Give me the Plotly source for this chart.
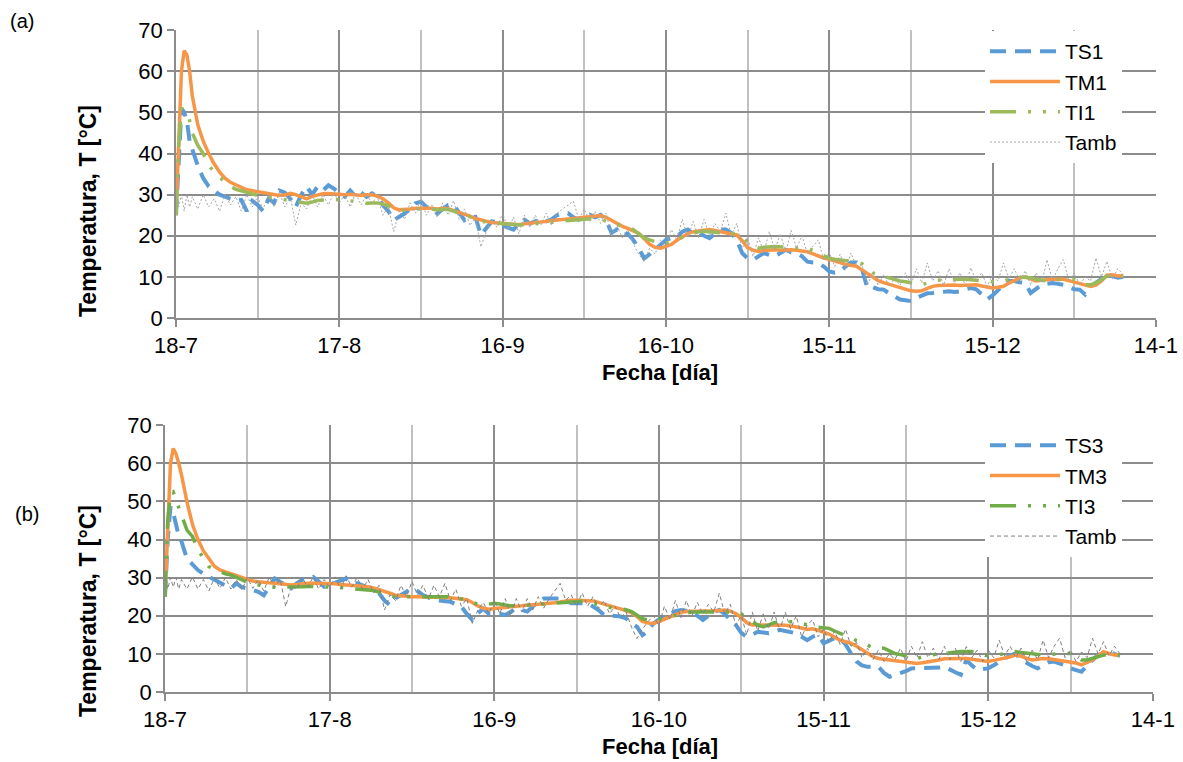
import pandas as pd
import plotly.graph_objects as go

# ---------------- data ----------------
# time axis: days after 18-7 (half-day steps during the first 3 days)
days = [0, 0.5, 1, 1.5, 2, 2.5, 3] + list(range(4, 175))
start_date = "2016-07-18"

tick_dates = ["2016-07-18", "2016-08-17", "2016-09-16", "2016-10-16",
              "2016-11-15", "2016-12-15", "2017-01-14"]
tick_labels = ["18-7", "17-8", "16-9", "16-10", "15-11", "15-12", "14-1"]
minor_dates = ["2016-08-02", "2016-09-01", "2016-10-01", "2016-10-31",
               "2016-11-30", "2016-12-30"]
y_ticks = [0, 10, 20, 30, 40, 50, 60, 70]

# panel (a)
TS1 = [25, 40, 51, 50, 48, 43, 41,
       37, 34, 32, 31, 30, 29.5, 29, 28.5, 28.7, 26,
       28.5, 27.5, 26, 29, 28, 31, 30.5, 29, 27, 30,
       32, 30, 32, 31, 32.3, 31.5, 30.3, 29.5, 31, 29.5,
       30.5, 29.5, 30.3, 29.5, 27.5, 26, 23.8, 24.5, 25.4, 26.5,
       27.9, 28.3, 27, 26.5, 25.4, 26.5, 27.5, 27.5, 25.5, 23.8,
       24.5, 24.6, 20.2, 21.8, 23.5, 23.3, 22.5, 22, 21.5, 23,
       23.9, 23, 23.5, 24.3, 23.5, 24, 25, 25.5, 25.5, 24.5,
       23.9, 24.5, 25.1, 24.5, 25.1, 23.9, 20.7, 21.5, 20.2, 20.5,
       19, 17, 14.5, 15.5, 16.6, 18, 19, 19.5, 19.8, 21,
       21.5, 20.5, 20.7, 20, 19.4, 20.5, 21.5, 21.5, 20.7, 19,
       15.8, 14.5, 14.1, 15, 15.8, 15.3, 15, 15.8, 16.6, 16,
       15.8, 15, 13.7, 13.5, 13.4, 12.5, 11.3, 11, 11.3, 12.5,
       13.5, 13.5, 12, 7.3, 7.5, 7, 6.9, 6, 5.3, 4.5,
       4.3, 4.1, 4.9, 5.5, 6, 6.1, 6.3, 6.5, 6.5, 6.3,
       6.5, 7, 7.3, 7, 5.7, 4.5, 5.5, 6.9, 8, 9,
       9, 8.7, 8.5, 6.1, 7, 8.1, 8.3, 8.5, 8.3, 8.1,
       7.5, 7, 6.9, 5.7, 7.7, 8.5, 9.5, 10.6, 10.2, 9.8,
       10]
TM1 = [25, 45, 60, 65, 64, 60, 54,
       47, 43, 40, 37.5, 35.5, 34, 33, 32.3, 31.8, 31.2,
       31, 30.8, 30.5, 30.3, 30, 29.8, 29.9, 30.3, 30, 29.4,
       29, 29.6, 30, 30.2, 30.3, 30.2, 30, 30, 30.1, 30,
       29.8, 30, 30, 29.6, 29, 28, 26.8, 26.3, 26.3, 26.5,
       26.7, 26.7, 26.8, 26.7, 26.5, 26.7, 26.6, 26.2, 25.6, 25.3,
       24.8, 24.2, 23.9, 23.4, 23.2, 23.1, 23, 22.8, 22.7, 22.7,
       22.9, 23, 23.1, 23.2, 23.5, 23.7, 23.9, 24, 24.1, 24.2,
       24.3, 24.4, 24.6, 24.8, 24.9, 24.5, 23.7, 23, 22.3, 21.8,
       21.2, 20.6, 19.3, 17.9, 17.2, 17, 17.4, 17.9, 18.9, 19.8,
       20.5, 21, 21.2, 21.4, 21.5, 21.3, 21, 20.7, 20.5, 20.2,
       18.8, 17.1, 16.5, 16.2, 16.4, 16.6, 16.6, 16.5, 16.6, 16.6,
       16.5, 16.4, 16.1, 15.6, 15, 14.6, 14.3, 14, 13.5, 13,
       12.8, 12.6, 11.7, 10.8, 9.8, 9.1, 8.6, 8.2, 7.7, 7.3,
       6.9, 6.6, 6.5, 6.6, 7.2, 7.7, 7.9, 8, 8.1, 8,
       7.9, 7.9, 8, 8.1, 7.8, 7.5, 7.3, 7.5, 7.7, 8.5,
       9.2, 9.7, 10, 9.6, 9, 9.2, 9.4, 9.4, 9.4, 9.4,
       9.1, 8.8, 8.5, 8.1, 7.7, 8, 9, 10.4, 10.5, 10.2,
       10.3]
TI1 = [25, 42, 51, 50.5, 50, 48, 45,
       42, 40, 37.2, 35.5, 34.2, 33, 32, 31.3, 31, 30.5,
       30.2, 29.8, 29.5, 29.3, 29.2, 29, 28.9, 28.7, 28.5, 28.2,
       27.9, 28.2, 28.6, 28.7, 28.7, 28.6, 28.8, 29, 28.5, 28.3,
       28.1, 27.9, 28, 28, 27.7, 27.3, 26.6, 26.3, 26.2, 26.4,
       26.5, 26.5, 26.6, 26.5, 26.3, 26.4, 26.4, 26, 25.4, 25,
       24.6, 24, 23.6, 23.3, 23.2, 23, 22.9, 22.7, 22.6, 22.6,
       22.7, 22.8, 22.8, 22.9, 23.1, 23.3, 23.5, 23.6, 23.7, 23.8,
       23.9, 24, 24.1, 24.2, 24, 23.5, 23.1, 22.8, 22.2, 21.8,
       21.5, 20.5, 19.5, 19, 18.5, 18.2, 18.2, 18.6, 19, 19.6,
       20.2, 20.7, 21, 21.1, 21, 20.9, 20.8, 20.7, 20.7, 20.4,
       19.8, 18.5, 17.5, 17, 17.2, 17.4, 17.4, 17.3, 17.2, 17.1,
       17, 17.2, 17, 16.4, 15.8, 15, 14.5, 14.3, 14.2, 14,
       13.8, 13.5, 13.2, 12, 11, 10.5, 10.1, 9.8, 9.5, 9,
       8.8, 8.5, 8.2, 8.1, 8.5, 9, 9.2, 9.3, 9.4, 9.4,
       9.4, 9.4, 9.4, 9.2, 9, 9, 8.8, 8.7, 8.9, 9.5,
       10, 10, 10, 9.8, 9.4, 9.2, 9, 9.2, 9.4, 9.4,
       9.4, 9.4, 8.8, 8.1, 8.1, 8.5, 9.3, 10.2, 10.4, 10.2,
       10.3]
Tamb1 = [30, 27, 30, 26, 30, 27, 29.5,
         26.5, 30, 27, 29, 26, 30, 27.5, 29.5, 26, 30,
         27, 29.5, 26.5, 30, 27, 30.5, 27, 29.5, 22.6, 28,
         26.5, 30, 27, 30, 27.5, 30.5, 28, 30, 27, 30.5,
         27.5, 30, 28, 29.5, 25, 27, 21, 26, 24, 28,
         25.5, 29, 25, 27.5, 24.5, 28, 25, 28.5, 24, 26.5,
         22.5, 24.5, 17.3, 21, 24, 22, 25.5, 21.5, 24.5, 20.5,
         25, 22, 25, 22.5, 25.5, 22.5, 25.5, 26.5, 27.5, 28.4,
         24, 26.5, 23.5, 26, 23, 25.5, 20, 22.5, 19.5, 21.5,
         18, 15.5, 13.7, 17, 15.5, 19, 17.5, 21.5, 19, 24,
         19.5, 23.5, 19.5, 24, 20, 23, 21, 25.5, 20, 23,
         17, 19.5, 15, 19.5, 16, 21, 16.5, 20.5, 16, 21.3,
         17, 20, 15.5, 17.5, 19, 14, 16, 12.5, 15.5, 12,
         15.8, 12.5, 13, 8, 11, 8, 10.5, 7.7, 9.5, 8,
         11, 8, 12, 8.5, 13.4, 9, 11.5, 8, 12, 8.5,
         11, 8, 12.2, 9, 11, 7.7, 10.5, 9, 13.4, 9.5,
         12, 9, 11.5, 8, 11, 8.5, 14.2, 9, 12, 14.2,
         9, 11, 8, 10, 9, 14.6, 10, 13.8, 9.5, 12,
         10.5]

# panel (b)
TS3 = [25, 40, 48.6, 47, 44, 41, 39.5,
       35, 33.5, 32, 31, 30.2, 29.5, 28.9, 28, 27.2, 28.5,
       27.5, 27.2, 26.8, 26.3, 25.4, 27.5, 29.8, 28.9, 28, 27.2,
       28.5, 29.4, 29.8, 30.2, 29, 27.6, 28, 28.5, 29.2, 29.8,
       28.5, 28.5, 28, 27.2, 26.5, 25.9, 24, 22.8, 24.6, 25.5,
       26.5, 27.2, 26.5, 25.4, 24.8, 24.1, 24, 23.9, 23.7, 23,
       22.4, 20.5, 18.9, 20.6, 21.9, 20.5, 20.6, 20.5, 20.2, 21,
       21.9, 21.5, 21.1, 22.5, 23.5, 24.5, 24.5, 24.5, 24.5, 24,
       23.3, 23.3, 23.3, 23.3, 22.4, 21.5, 20.2, 20, 19.8, 19.8,
       19.3, 18, 17.1, 14.9, 16, 18, 19, 19.8, 20.5, 21.2,
       21.5, 21.3, 21.1, 20, 18.9, 20, 21, 21.5, 20.5, 18.9,
       17.6, 15.5, 14.5, 15, 15.8, 15.6, 15.4, 15.8, 16.3, 16,
       15.6, 15.4, 14.5, 13.6, 14.5, 15, 12.8, 13.5, 14.1, 14.1,
       12.5, 10.1, 8, 7, 6.6, 6.6, 6.6, 5, 4, 4.5,
       4.9, 5.5, 6.2, 6.2, 6.2, 6.2, 6.2, 6.4, 6.6, 6,
       5.2, 4.5, 8.4, 7, 5.8, 6, 6.2, 7, 8, 8.8,
       9.5, 10.1, 8.5, 7.5, 6.8, 6.2, 7, 7.8, 8, 7.5,
       7, 6.2, 5.8, 5.3, 7, 8.4, 9.7, 10.2, 10.6, 10,
       9.5]
TM3 = [25, 45, 60, 63.9, 62.5, 60, 57,
       49.9, 44, 40, 37, 35, 33, 32, 31.5, 31, 30.5,
       29.9, 29.5, 29.1, 28.9, 28.7, 28.6, 28.5, 28.4, 28.2, 28.1,
       28.2, 28.4, 28.5, 28.5, 28.5, 28.5, 28.5, 28.4, 28.2, 28.1,
       28, 27.9, 27.7, 27.6, 27.3, 26.9, 26.4, 25.9, 25.4, 25.2,
       25.1, 25, 25, 25, 25, 25, 24.9, 24.8, 24.7, 24.6,
       24.4, 24.2, 23.5, 22.6, 22, 21.7, 21.9, 22.1, 22.3, 22.4,
       22.5, 22.6, 22.7, 22.8, 23, 23.1, 23.2, 23.4, 23.6, 23.9,
       24.1, 24.1, 24.1, 24.1, 23.9, 23.5, 23, 22.6, 22.2, 21.8,
       21.3, 20.8, 19.8, 18.5, 18.1, 18, 18.5, 19.1, 19.8, 20.5,
       20.9, 21.1, 21.1, 21.1, 21.1, 21.2, 21.3, 21.4, 21.5, 21.2,
       20.6, 19.5, 18.2, 17.6, 17.6, 17.6, 17.6, 17.6, 17.6, 17.5,
       17.3, 17.1, 16.8, 16.4, 16.6, 16.2, 15.8, 15.2, 14.4, 13.6,
       13.2, 12.8, 12, 11.1, 10.2, 9.3, 8.8, 8.6, 8.4, 8.3,
       8.1, 8, 7.8, 7.5, 7.7, 7.9, 8, 8.4, 8.7, 8.8,
       8.8, 8.8, 8.8, 8.6, 8.4, 8.2, 8, 8.3, 8.6, 8.8,
       9.2, 9.7, 9.4, 8.8, 8.4, 8.6, 8.8, 8.7, 8.5, 8.4,
       8.2, 8, 7.6, 7.1, 7.8, 8.4, 9.5, 10.6, 10.1, 9.7,
       9.8]
TI3 = [25, 45, 52, 52.5, 50.4, 48.5, 46.4,
       42.5, 40.8, 37.5, 35, 32.9, 32.2, 31.6, 31, 30.7, 30,
       29.3, 28.8, 28.3, 28, 27.8, 27.6, 27.5, 27.5, 27.4, 27.4,
       27.5, 27.6, 27.7, 27.7, 27.6, 27.6, 27.6, 27.5, 27.4, 27.3,
       27.2, 27.1, 27, 26.9, 26.6, 26.2, 25.7, 25.2, 25, 25,
       25, 25.1, 25.1, 25, 25, 25, 25, 25, 25, 24.8,
       24.5, 24.1, 23.6, 23, 22.8, 23, 23.3, 23.1, 22.8, 22.6,
       22.6, 22.7, 22.8, 22.9, 23, 23, 23.1, 23.2, 23.3, 23.5,
       23.7, 23.8, 23.8, 23.7, 23.4, 22.9, 22.4, 22.2, 22, 21.9,
       21.6, 21.1, 20.2, 19.2, 18.9, 18.9, 19.1, 19.5, 19.8, 20.2,
       20.6, 20.9, 21, 21, 21, 21, 21, 21, 21, 21,
       21, 20.5, 19.4, 18.4, 17.6, 17.1, 17.6, 18.2, 18.4, 18.4,
       18.4, 18.4, 18, 17.5, 17.2, 17, 16.8, 16.7, 16, 15.4,
       14.8, 14, 13.5, 13.2, 12.3, 11.5, 11.5, 11.5, 10.8, 10.1,
       9.8, 9.4, 9, 8.8, 9.2, 9.6, 9.8, 10, 10.2, 10.4,
       10.6, 10.6, 10.6, 10.6, 10.2, 9.7, 9.5, 9.6, 9.8, 10.1,
       10.4, 10.6, 10.4, 10.2, 10.1, 9.8, 9.7, 9.8, 10, 10.1,
       10.1, 10.1, 9.2, 8.4, 8.4, 8.8, 9.3, 9.7, 9.7, 9.6,
       9.8]
Tamb3 = [30, 27, 30, 27.5, 30, 27, 29.5,
         27, 30.2, 27, 29.5, 26.5, 30, 27.2, 30, 27, 29.5,
         26.8, 30, 27.2, 29.5, 26.5, 30.2, 27.5, 29.5, 22.4, 28,
         27, 30, 27.5, 30.2, 27, 29.5, 27.5, 30.2, 27, 30.5,
         27.5, 30, 27, 29.5, 26, 28, 21.5, 25.5, 24, 28,
         25, 29, 25.5, 28, 24.5, 28, 25, 28.5, 24, 27,
         22.5, 24.5, 18, 21.5, 23.5, 20.5, 24, 20.5, 24.5, 20,
         24.5, 21, 24.5, 21.5, 25, 22, 24.5, 26.5, 28.5, 24,
         25.5, 22.5, 26, 22.5, 25, 22, 24, 20.5, 22.5, 19.5,
         21, 17, 14, 16.5, 18.5, 20, 17.5, 22.5, 19, 24,
         19.5, 24, 20, 23.5, 20.5, 23, 21, 25.9, 20.5, 23,
         17.5, 20, 15, 21, 16, 20.5, 16.5, 21, 16, 21,
         16.5, 20, 14.5, 17.5, 19, 14.5, 16.5, 13, 16, 12.5,
         16.5, 12, 13, 9, 11.5, 8.5, 11, 8, 10, 8.5,
         11.5, 8, 12, 9, 13.2, 9, 11.5, 8.5, 12, 8.5,
         11.5, 8, 11.9, 9, 11, 8, 11, 9, 13.6, 9.5,
         12, 9, 11.5, 8, 11, 8.5, 13.6, 9, 12, 14.1,
         9, 11, 8, 10.5, 9, 14.1, 10, 13.2, 9.5, 12,
         10]

# ---------------- figure ----------------
dates = pd.Timestamp(start_date) + pd.to_timedelta(days, unit="D")

FONT = "Arial, Liberation Sans, sans-serif"
W, H = 1183, 762
BLUE, ORANGE = "#5B9BD5", "#F79646"
GREEN_A, GREEN_B = "#9BBB59", "#70AD47"
GRID_DARK, GRID_LIGHT = "#8C8C8C", "#C0C0C0"

fig = go.Figure()

def add(y, name, color, width, dash, xa, ya, legend):
    n = min(len(dates), len(y))
    fig.add_trace(go.Scatter(
        x=dates[:n], y=y[:n], name=name, mode="lines",
        line=dict(color=color, width=width, dash=dash),
        xaxis=xa, yaxis=ya, legend=legend))

TS_DASH = "16px,9px"
TI_DASH = "26px,12px,3px,12px,3px,12px"

add(TS1, "TS1", BLUE, 4, TS_DASH, "x", "y", "legend")
add(TM1, "TM1", ORANGE, 3.5, "solid", "x", "y", "legend")
add(TI1, "TI1", GREEN_A, 3.5, TI_DASH, "x", "y", "legend")
add(Tamb1, "Tamb", "#A6A6A6", 1, "2px,2px", "x", "y", "legend")

add(TS3, "TS3", BLUE, 4, TS_DASH, "x2", "y2", "legend2")
add(TM3, "TM3", ORANGE, 3.5, "solid", "x2", "y2", "legend2")
add(TI3, "TI3", GREEN_B, 3.5, TI_DASH, "x2", "y2", "legend2")
add(Tamb3, "Tamb", "#7F7F7F", 1, "4px,3px", "x2", "y2", "legend2")

# range end a hair past the last tick so its gridline is drawn
x_range = [tick_dates[0], "2017-01-14 00:30"]

def xaxis_cfg(domain, anchor):
    return dict(
        domain=domain, anchor=anchor, type="date",
        range=x_range,
        tickmode="array", tickvals=tick_dates, ticktext=tick_labels,
        showgrid=True, gridcolor=GRID_DARK, gridwidth=1.5,
        showline=True, linecolor=GRID_DARK, linewidth=1.5,
        ticks="outside", ticklen=7, tickcolor=GRID_DARK, tickwidth=1.5,
        tickfont=dict(family=FONT, size=22, color="black"),
        minor=dict(tickmode="array", tickvals=minor_dates, showgrid=True,
                   gridcolor=GRID_LIGHT, gridwidth=1.5, ticks=""),
        zeroline=False, fixedrange=True, automargin=False)

def yaxis_cfg(domain, anchor, size):
    return dict(
        domain=domain, anchor=anchor, range=[0, 70.05],
        tickmode="array", tickvals=y_ticks,
        showgrid=True, gridcolor=GRID_DARK, gridwidth=1.5,
        showline=True, linecolor=GRID_DARK, linewidth=1.5,
        ticks="outside", ticklen=7, tickcolor=GRID_DARK, tickwidth=1.5,
        tickfont=dict(family=FONT, size=size, color="black"),
        zeroline=False, fixedrange=True, automargin=False)

xa_dom = [176 / W, 1156 / W]
ya_dom = [1 - 318 / H, 1 - 30 / H]
xb_dom = [165 / W, 1153 / W]
yb_dom = [1 - 692 / H, 1 - 425 / H]

legend_common = dict(xanchor="left", yanchor="top", bgcolor="white",
                     borderwidth=0, tracegroupgap=0, itemwidth=70,
                     entrywidth=160, entrywidthmode="pixels",
                     font=dict(family=FONT, size=21, color="black"))

fig.update_layout(
    width=W, height=H, autosize=False,
    margin=dict(l=0, r=0, t=0, b=0, autoexpand=False),
    paper_bgcolor="white", plot_bgcolor="white",
    font=dict(family=FONT, color="black"),
    xaxis=xaxis_cfg(xa_dom, "y"),
    yaxis=yaxis_cfg(ya_dom, "x", 22),
    xaxis2=xaxis_cfg(xb_dom, "y2"),
    yaxis2=yaxis_cfg(yb_dom, "x2", 22),
    legend=dict(x=985 / W, y=1 - 31 / H, **legend_common),
    legend2=dict(x=985 / W, y=1 - 425 / H, **legend_common),
    showlegend=True,
)

def ann(text, x, y, size, bold=False, angle=0):
    fig.add_annotation(
        text=f"<b>{text}</b>" if bold else text,
        x=x / W, y=1 - y / H, xref="paper", yref="paper",
        xanchor="center", yanchor="middle", showarrow=False,
        textangle=angle, font=dict(family=FONT, size=size, color="black"))

ann("(a)", 22, 21, 20)
ann("(b)", 27, 514, 20)
ann("Temperatura, T [°C]", 88, 211, 23, bold=True, angle=-90)
ann("Temperatura, T [°C]", 88, 611, 23, bold=True, angle=-90)
ann("Fecha [día]", 660, 372, 22, bold=True)
ann("Fecha [día]", 660, 746, 22, bold=True)

fig.write_html(
    "out.html",
    config={"displayModeBar": False},
    post_script="document.body.style.margin='0';"
                "document.body.style.overflow='hidden';")
